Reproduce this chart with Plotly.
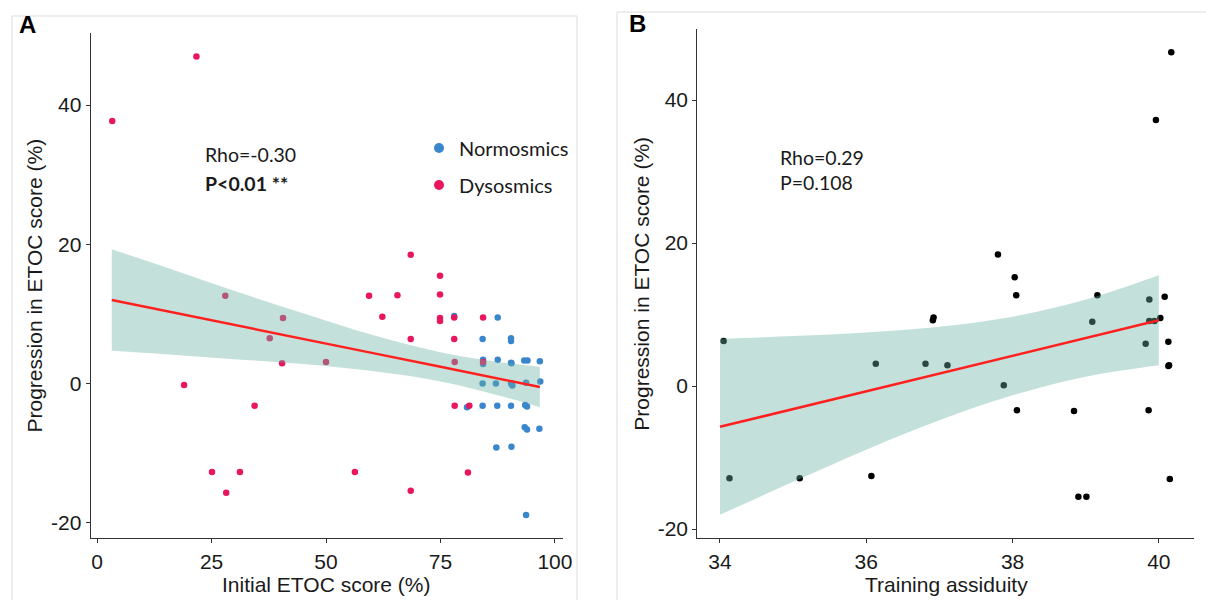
import plotly.graph_objects as go

# ---------------- Panel A data ----------------
dys_x = [3.3, 21.7, 19.0, 25.1, 28.0, 28.2, 31.2, 34.4, 37.7, 40.6, 40.4, 50.0, 56.3, 59.4,
         62.3, 65.6, 68.5, 68.5, 68.5, 74.9, 74.9, 74.9, 74.9, 78.0, 78.0, 78.1, 78.1, 81.3,
         81.0, 84.3, 84.3]
dys_y = [37.7, 47.0, -0.2, -12.7, 12.6, -15.7, -12.7, -3.2, 6.5, 9.4, 2.9, 3.1, -12.7, 12.6,
         9.6, 12.7, 18.5, 6.4, -15.4, 15.5, 12.8, 9.4, 9.0, 9.5, 6.4, 3.1, -3.2, -3.2,
         -12.8, 9.5, 3.1]

nor_x = [78.0, 87.5, 84.2, 90.4, 90.4, 84.3, 84.3, 87.5, 90.4, 90.5, 93.3, 94.0, 96.7, 84.2,
         87.1, 90.4, 90.7, 93.7, 96.8, 80.8, 84.2, 87.4, 90.4, 93.5, 93.9, 93.4, 93.9, 96.6,
         87.2, 90.5, 93.7]
nor_y = [9.7, 9.5, 6.4, 6.5, 6.1, 3.4, 2.8, 3.4, 3.0, 2.9, 3.3, 3.3, 3.2, 0.0,
         0.0, 0.0, -0.3, 0.1, 0.3, -3.4, -3.2, -3.2, -3.2, -3.1, -3.3, -6.3, -6.6, -6.5,
         -9.2, -9.1, -18.9]

fitA_x = [3.2, 15, 30, 45, 60, 75, 90, 96.7]
fitA_y = [12.0, 10.4, 8.4, 6.4, 4.4, 2.4, 0.4, -0.5]
fitA_up = [19.3, 16.7, 13.3, 10.1, 7.0, 4.5, 2.9, 2.4]
fitA_lo = [4.7, 4.2, 3.5, 2.8, 1.8, 0.3, -2.1, -3.4]

ticksA_x = [0, 25, 50, 75, 100]
ticksA_xt = ["0", "25", "50", "75", "100"]
ticksA_y = [-20, 0, 20, 40]
ticksA_yt = ["-20", "0", "20", "40"]

# ---------------- Panel B data ----------------
b_x = [34.05, 34.13, 35.09, 36.07, 36.13, 36.81, 37.11, 36.91, 36.92, 37.80, 38.03, 38.05,
       39.16, 39.87, 40.08, 39.09, 39.87, 39.94, 40.02, 39.82, 40.13, 40.13, 40.14, 37.88,
       38.06, 38.84, 39.86, 40.15, 38.90, 39.01, 40.17, 39.96]
b_y = [6.3, -12.9, -12.9, -12.6, 3.1, 3.1, 2.9, 9.2, 9.6, 18.4, 15.2, 12.7,
       12.7, 12.1, 12.5, 9.0, 9.1, 9.1, 9.5, 5.9, 6.2, 2.8, 2.9, 0.1,
       -3.4, -3.5, -3.4, -13.0, -15.5, -15.5, 46.7, 37.2]

fitB_x = [34, 35, 36, 37, 38, 39, 40]
fitB_y = [-5.7, -3.2, -0.7, 1.7, 4.2, 6.7, 9.2]
fitB_up = [6.6, 7.0, 7.5, 8.3, 9.7, 12.1, 15.5]
fitB_lo = [-18.0, -13.4, -8.9, -4.8, -1.3, 1.3, 2.9]

ticksB_x = [34, 36, 38, 40]
ticksB_xt = ["34", "36", "38", "40"]
ticksB_y = [-20, 0, 20, 40]
ticksB_yt = ["-20", "0", "20", "40"]

PINK = "#e8175d"
BLUE = "#3a86cc"
BAND = "rgba(105,179,162,0.4)"
RED = "#ff2020"
AXC = "#333333"
TXT = "#1a1a1a"
SANS = "Liberation Sans"
CAL = "Lato"
W, H = 1206, 600

fig = go.Figure()

# Panel A points
fig.add_trace(go.Scatter(x=nor_x, y=nor_y, mode="markers", xaxis="x", yaxis="y",
                         marker=dict(color=BLUE, size=6.5), showlegend=False))
fig.add_trace(go.Scatter(x=dys_x, y=dys_y, mode="markers", xaxis="x", yaxis="y",
                         marker=dict(color=PINK, size=6.5), showlegend=False))
# Panel A band + fit
fig.add_trace(go.Scatter(x=fitA_x, y=fitA_lo, mode="lines", xaxis="x", yaxis="y",
                         line=dict(width=0, shape="spline"), showlegend=False, hoverinfo="skip"))
fig.add_trace(go.Scatter(x=fitA_x, y=fitA_up, mode="lines", xaxis="x", yaxis="y",
                         line=dict(width=0, shape="spline"), fill="tonexty", fillcolor=BAND,
                         showlegend=False, hoverinfo="skip"))
fig.add_trace(go.Scatter(x=fitA_x, y=fitA_y, mode="lines", xaxis="x", yaxis="y",
                         line=dict(color=RED, width=2.5), showlegend=False))

# Legend entries (panel A), one legend each for exact placement
fig.add_trace(go.Scatter(x=[None], y=[None], mode="markers", name="Normosmics",
                         legend="legend", marker=dict(color=BLUE, size=10)))
fig.add_trace(go.Scatter(x=[None], y=[None], mode="markers", name="Dysosmics",
                         legend="legend2", marker=dict(color=PINK, size=10)))

# Panel B points
fig.add_trace(go.Scatter(x=b_x, y=b_y, mode="markers", xaxis="x2", yaxis="y2",
                         marker=dict(color="#000000", size=6.5), showlegend=False))
fig.add_trace(go.Scatter(x=fitB_x, y=fitB_lo, mode="lines", xaxis="x2", yaxis="y2",
                         line=dict(width=0, shape="spline"), showlegend=False, hoverinfo="skip"))
fig.add_trace(go.Scatter(x=fitB_x, y=fitB_up, mode="lines", xaxis="x2", yaxis="y2",
                         line=dict(width=0, shape="spline"), fill="tonexty", fillcolor=BAND,
                         showlegend=False, hoverinfo="skip"))
fig.add_trace(go.Scatter(x=fitB_x, y=fitB_y, mode="lines", xaxis="x2", yaxis="y2",
                         line=dict(color=RED, width=2.5), showlegend=False))

axis_common = dict(showline=True, linecolor=AXC, linewidth=1.2, ticks="outside", ticklen=4,
                   tickcolor=AXC, tickwidth=1, showgrid=False, zeroline=False,
                   automargin=False,
                   tickfont=dict(family=SANS, size=21, color=TXT),
                   title_font=dict(family=SANS, size=21, color=TXT))

legend_common = dict(xanchor="left", yanchor="middle",
                     font=dict(family=CAL, size=20, color=TXT), bgcolor="rgba(0,0,0,0)",
                     itemwidth=30)

fig.update_layout(
    width=W, height=H,
    margin=dict(l=0, r=0, t=0, b=0, autoexpand=False),
    paper_bgcolor="white", plot_bgcolor="white",
    xaxis=dict(domain=[0.0752, 0.4666], range=[-1.4, 101.7], tickvals=ticksA_x,
               ticktext=ticksA_xt, anchor="y", **axis_common),
    yaxis=dict(domain=[0.1028, 0.945], range=[-22.24, 50.36], tickvals=ticksA_y,
               ticktext=ticksA_yt,
               title=dict(text="Progression in ETOC score (%)", standoff=2), anchor="x",
               **axis_common),
    xaxis2=dict(domain=[0.5782, 0.9900], range=[33.69, 40.48], tickvals=ticksB_x,
                ticktext=ticksB_xt, anchor="y2", **axis_common),
    yaxis2=dict(domain=[0.1028, 0.9512], range=[-21.3, 49.9], tickvals=ticksB_y,
                ticktext=ticksB_yt,
                title=dict(text="Progression in ETOC score (%)", standoff=2), anchor="x2",
                **axis_common),
    legend=dict(x=419/W, y=1-148/H, **legend_common),
    legend2=dict(x=419/W, y=1-185/H, **legend_common),
    font=dict(family=SANS, color=TXT),
)

# x-axis titles
fig.add_annotation(text="Initial ETOC score (%)", xref="paper", yref="paper",
                   x=326.5/W, y=1-584/H, xanchor="center", yanchor="middle", showarrow=False,
                   font=dict(family=SANS, size=21, color=TXT))
fig.add_annotation(text="Training assiduity", xref="paper", yref="paper",
                   x=946/W, y=1-584/H, xanchor="center", yanchor="middle", showarrow=False,
                   font=dict(family=SANS, size=21, color=TXT))

# Panel frames
fig.add_shape(type="rect", xref="paper", yref="paper", x0=12/W, x1=577/W,
              y0=-0.01, y1=1-16/H, line=dict(color="#dddddd", width=1), layer="below")
fig.add_shape(type="rect", xref="paper", yref="paper", x0=617/W, x1=1.01,
              y0=-0.01, y1=1-12/H, line=dict(color="#dddddd", width=1), layer="below")

# Panel letters
fig.add_annotation(text="<b>A</b>", xref="paper", yref="paper", x=17/W, y=1-24/H,
                   xanchor="left", yanchor="middle", showarrow=False,
                   font=dict(family=SANS, size=24, color="#000"))
fig.add_annotation(text="<b>B</b>", xref="paper", yref="paper", x=627/W, y=1-23/H,
                   xanchor="left", yanchor="middle", showarrow=False,
                   font=dict(family=SANS, size=24, color="#000"))

# Stats text
fig.add_annotation(text="Rho=-0.30", xref="x", yref="y", x=23.1, y=32.9,
                   xanchor="left", yanchor="middle", showarrow=False,
                   font=dict(family=CAL, size=19.5, color=TXT))
fig.add_annotation(text="<b>P&lt;0.01 **</b>", xref="x", yref="y", x=23.1, y=28.8,
                   xanchor="left", yanchor="middle", showarrow=False,
                   font=dict(family=CAL, size=19.5, color=TXT))
fig.add_annotation(text="Rho=0.29", xref="x2", yref="y2", x=34.79, y=32.0,
                   xanchor="left", yanchor="middle", showarrow=False,
                   font=dict(family=CAL, size=19.5, color=TXT))
fig.add_annotation(text="P=0.108", xref="x2", yref="y2", x=34.79, y=28.4,
                   xanchor="left", yanchor="middle", showarrow=False,
                   font=dict(family=CAL, size=19.5, color=TXT))

fig.write_html("out.html", config={"displayModeBar": False},
               post_script="document.body.style.margin='0';document.body.style.overflow='hidden';")
